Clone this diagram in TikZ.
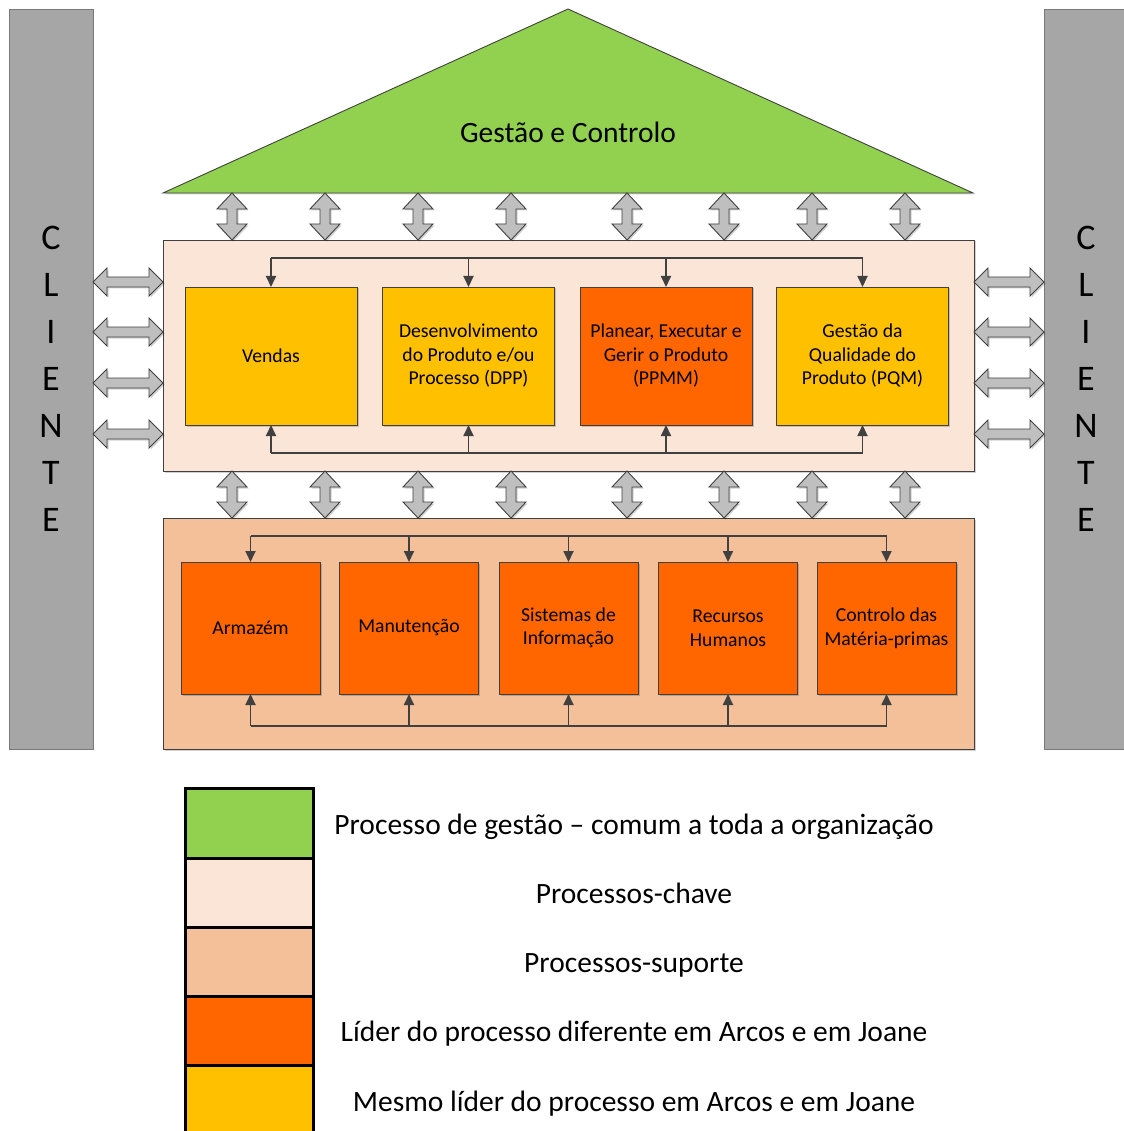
\documentclass[tikz,border=0pt]{standalone}
\usepackage{fontspec}
\setmainfont{Carlito}
\usetikzlibrary{arrows.meta,shadows}

\definecolor{pillargray}{HTML}{A6A6A6}
\definecolor{mgmtgreen}{HTML}{92D050}
\definecolor{keyfill}{HTML}{FBE5D6}
\definecolor{supfill}{HTML}{F3C09A}
\definecolor{sameyellow}{HTML}{FFC000}
\definecolor{difforange}{HTML}{FF6600}
\definecolor{arrowgray}{HTML}{BFBFBF}
\definecolor{edgegray}{HTML}{404040}

\tikzset{
  softshadow/.style={drop shadow={shadow xshift=1.5pt, shadow yshift=-1.5pt, fill=black, opacity=0.18}},
  dblarrow/.style={fill=arrowgray, draw=edgegray, line width=0.9pt, line join=miter, softshadow},
  panel/.style={draw=edgegray, line width=0.8pt, inner sep=0pt, outer sep=0pt, softshadow},
  procbox/.style={draw=edgegray, line width=0.8pt, inner sep=0pt, outer sep=0pt, align=center,
    font=\fontsize{19.7}{23.5}\selectfont, softshadow},
  keybox/.style={procbox, minimum width=172pt, minimum height=138pt},
  supbox/.style={procbox, minimum width=139pt, minimum height=132pt, fill=difforange},
  conn/.style={draw=edgegray, line width=1.8pt},
  connarrow/.style={conn, -{Triangle[length=11pt,width=10pt]}},
  pillar/.style={fill=pillargray, draw=edgegray!70, line width=0.6pt, inner sep=0pt,
    minimum width=84pt, minimum height=740pt},
  pillartext/.style={align=center, font=\fontsize{36}{47}\selectfont},
  swatch/.style={draw=black, line width=3pt},
  legendtext/.style={font=\fontsize{29.5}{34}\selectfont, anchor=base},
  pics/vdbl/.style={code={
    \filldraw[dblarrow] (0,0) -- (15,16) -- (5,16) -- (5,31) -- (15,31) -- (0,47)
      -- (-15,31) -- (-5,31) -- (-5,16) -- (-15,16) -- cycle;}},
  pics/hdbl/.style={code={
    \filldraw[dblarrow] (0,0) -- (14,-14) -- (14,-5) -- (56,-5) -- (56,-14) -- (70,0)
      -- (56,14) -- (56,5) -- (14,5) -- (14,14) -- cycle;}}
}

\begin{document}
\begin{tikzpicture}[x=1pt,y=-1pt]
\useasboundingbox (0,0) rectangle (1123,1131);
\fill[white] (0,0) rectangle (1123,1131);

% client pillars
\node[pillar] (leftpillar) at (51,379) {};
\node[pillar] (rightpillar) at (1086,379) {};
\node[pillartext] (leftlabel) at (51,379) {C\\L\\I\\E\\N\\T\\E};
\node[pillartext] (rightlabel) at (1086,379) {C\\L\\I\\E\\N\\T\\E};

% management roof
\filldraw[fill=mgmtgreen, draw=edgegray, line width=0.9pt, line join=miter, softshadow]
  (163,193) -- (568,9) -- (973,193) -- cycle;
\node[font=\fontsize{29.5}{34}\selectfont] (roof) at (568,132) {Gestão e Controlo};

% key processes panel
\node[panel, fill=keyfill, minimum width=811pt, minimum height=231pt] (keypanel) at (568.5,355.5) {};
\node[keybox, fill=sameyellow] (vendas) at (271,356) {Vendas};
\node[keybox, fill=sameyellow] (dpp) at (468.5,356) {Desenvolvimento\\do Produto e/ou\\Processo (DPP)};
\node[keybox, fill=difforange] (ppmm) at (666,356) {Planear, Executar e\\Gerir o Produto\\(PPMM)};
\node[keybox, fill=sameyellow] (pqm) at (862.5,356) {Gestão da\\Qualidade do\\Produto (PQM)};

\coordinate (ktop) at (0,258);
\coordinate (kbot) at (0,453);
\draw[conn] (vendas.north |- ktop) -- (pqm.north |- ktop);
\draw[conn] (vendas.south |- kbot) -- (pqm.south |- kbot);
\foreach \b in {vendas,dpp,ppmm,pqm}{
  \draw[connarrow] (\b.north |- ktop) -- (\b.north);
  \draw[connarrow] (\b.south |- kbot) -- (\b.south);
}

% support processes panel
\node[panel, fill=supfill, minimum width=811pt, minimum height=231pt] (suppanel) at (568.5,633.5) {};
\node[supbox] (armazem) at (250.5,628) {Armazém};
\node[supbox] (manut) at (409,628) {Manutenção};
\node[supbox] (sisinf) at (568.5,628) {Sistemas de\\Informação};
\node[supbox] (rh) at (728,628) {Recursos\\Humanos};
\node[supbox] (cmp) at (886.5,628) {Controlo das\\Matéria-primas};

\coordinate (stop) at (0,536);
\coordinate (sbot) at (0,726);
\draw[conn] (armazem.north |- stop) -- (cmp.north |- stop);
\draw[conn] (armazem.south |- sbot) -- (cmp.south |- sbot);
\foreach \b in {armazem,manut,sisinf,rh,cmp}{
  \draw[connarrow] (\b.north |- stop) -- (\b.north);
  \draw[connarrow] (\b.south |- sbot) -- (\b.south);
}

% two-way links between levels
\foreach \x in {232,325,418,511,627,724,812,905}{
  \pic at (\x,193) {vdbl};
  \pic at (\x,471) {vdbl};
}
% two-way links with the client
\foreach \y in {282,332,383,434}{
  \pic at (93,\y) {hdbl};
  \pic at (974,\y) {hdbl};
}

% legend
\draw[swatch, fill=mgmtgreen] (185,788) rectangle (313,858);
\draw[swatch, fill=keyfill] (185,858) rectangle (313,927);
\draw[swatch, fill=supfill] (185,927) rectangle (313,996);
\draw[swatch, fill=difforange] (185,996) rectangle (313,1065);
\draw[swatch, fill=sameyellow] (185,1065) rectangle (313,1136);

\node[legendtext] (lg1) at (634,834) {Processo de gestão – comum a toda a organização};
\node[legendtext] (lg2) at (634,903) {Processos-chave};
\node[legendtext] (lg3) at (634,972) {Processos-suporte};
\node[legendtext] (lg4) at (634,1041) {Líder do processo diferente em Arcos e em Joane};
\node[legendtext] (lg5) at (634,1111) {Mesmo líder do processo em Arcos e em Joane};
\end{tikzpicture}
\end{document}
